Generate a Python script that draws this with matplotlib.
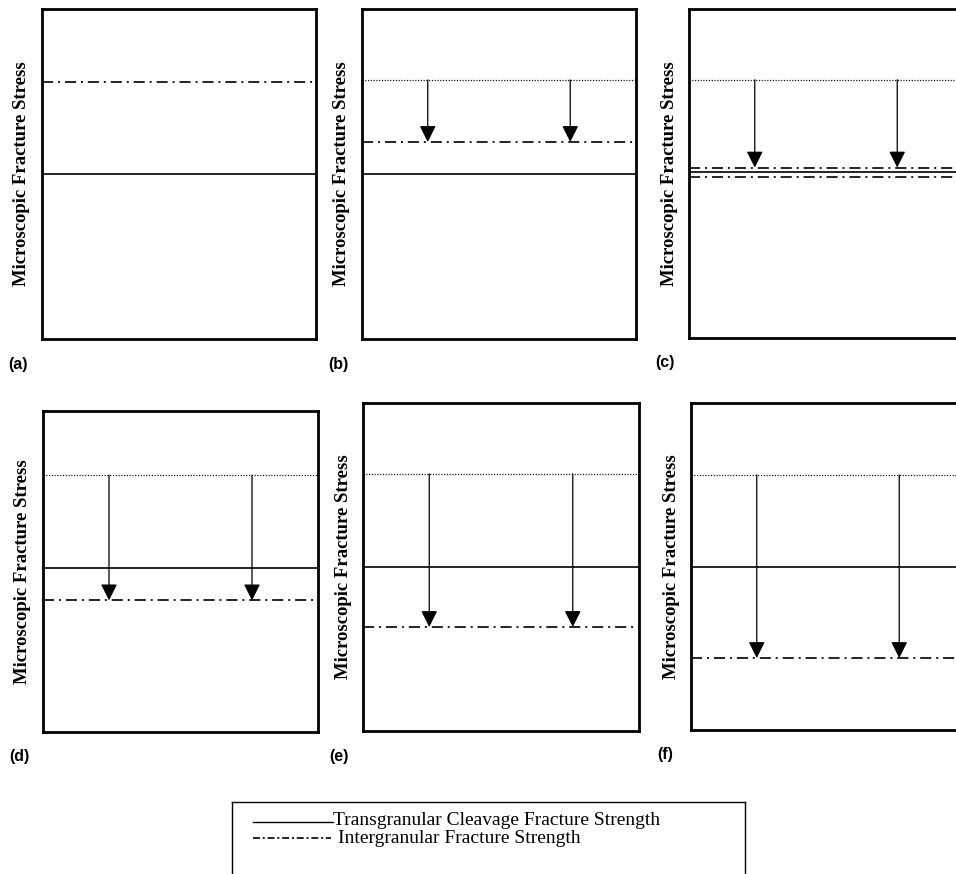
import matplotlib.pyplot as plt
from matplotlib.patches import FancyArrowPatch

plt.rcParams['lines.scale_dashes'] = False

W, H = 956, 874

labels = ['(a)', '(b)', '(c)', '(d)', '(e)', '(f)']
# levels as a fraction of the box height, from the bottom
transgranular = [0.50, 0.50, 0.505, 0.51, 0.50, 0.50]
intergranular = [0.78, 0.597, 0.518, 0.41, 0.317, 0.22]
intergranular_low = [None, None, 0.49, None, None, None]
start_level = [None, 0.785, 0.785, 0.80, 0.784, 0.78]
arrow_x = [0.24, 0.76]

legend_labels = ['Transgranular Cleavage Fracture Strength',
                 'Intergranular Fracture Strength']
ylabel = 'Microscopic Fracture Stress'

# box corners in pixels: left, top, right, bottom
boxes = [(42, 9, 316, 339), (362, 9, 636, 339), (689, 9, 963, 338),
         (43, 411, 318, 732), (363, 403, 639, 731), (691, 403, 965, 730)]

dashdot = (0, (8, 3.5, 1.5, 3.5))
dotted = (0, (0.8, 1.2))

fig = plt.figure(figsize=(W / 100, H / 100), dpi=100)

for i, (l, t, r, b) in enumerate(boxes):
    ax = fig.add_axes([l / W, 1 - b / H, (r - l) / W, (b - t) / H])
    ax.set_xlim(0, 1)
    ax.set_ylim(0, 1)
    ax.set_xticks([])
    ax.set_yticks([])
    for s in ax.spines.values():
        s.set_linewidth(2.0)

    ax.axhline(transgranular[i], color='black', lw=1.2)
    ax.axhline(intergranular[i], color='black', lw=1.2, linestyle=dashdot)
    if intergranular_low[i] is not None:
        ax.axhline(intergranular_low[i], color='black', lw=1.2, linestyle=dashdot)
    if start_level[i] is not None:
        ax.axhline(start_level[i], color='black', lw=0.9, linestyle=dotted)
        for xa in arrow_x:
            arr = FancyArrowPatch((xa, start_level[i]), (xa, intergranular[i]),
                                  arrowstyle='-|>,head_length=1.0,head_width=0.5',
                                  mutation_scale=10, lw=0.9, color='black',
                                  shrinkA=0, shrinkB=0)
            ax.add_patch(arr)

    fig.text((l - 20) / W, 1 - (t + b) / 2 / H, ylabel, rotation=90,
             ha='center', va='center', family='Liberation Serif',
             weight='bold', fontsize=13.5)
    fig.text((l - 34) / W, 1 - (b + 25) / H, labels[i], ha='left', va='center',
             family='Liberation Sans', weight='bold', fontsize=11.5)

# legend box at the bottom
lg = fig.add_axes([0, 0, 1, 1])
lg.set_xlim(0, W)
lg.set_ylim(H, 0)
lg.axis('off')
lg.plot([232, 745], [802, 802], color='black', lw=1.0)
lg.plot([232, 232], [802, 880], color='black', lw=1.0)
lg.plot([745, 745], [802, 880], color='black', lw=1.0)
lg.plot([253, 333], [822, 822], color='black', lw=1.0)
lg.plot([253, 331], [838, 838], color='black', lw=1.2, linestyle=(0, (5, 2, 1.5, 2)))
lg.text(333, 825, legend_labels[0], ha='left', va='baseline',
        family='Liberation Serif', fontsize=14)
lg.text(338, 843, legend_labels[1], ha='left', va='baseline',
        family='Liberation Serif', fontsize=14)

fig.savefig('out.png', dpi=100)
